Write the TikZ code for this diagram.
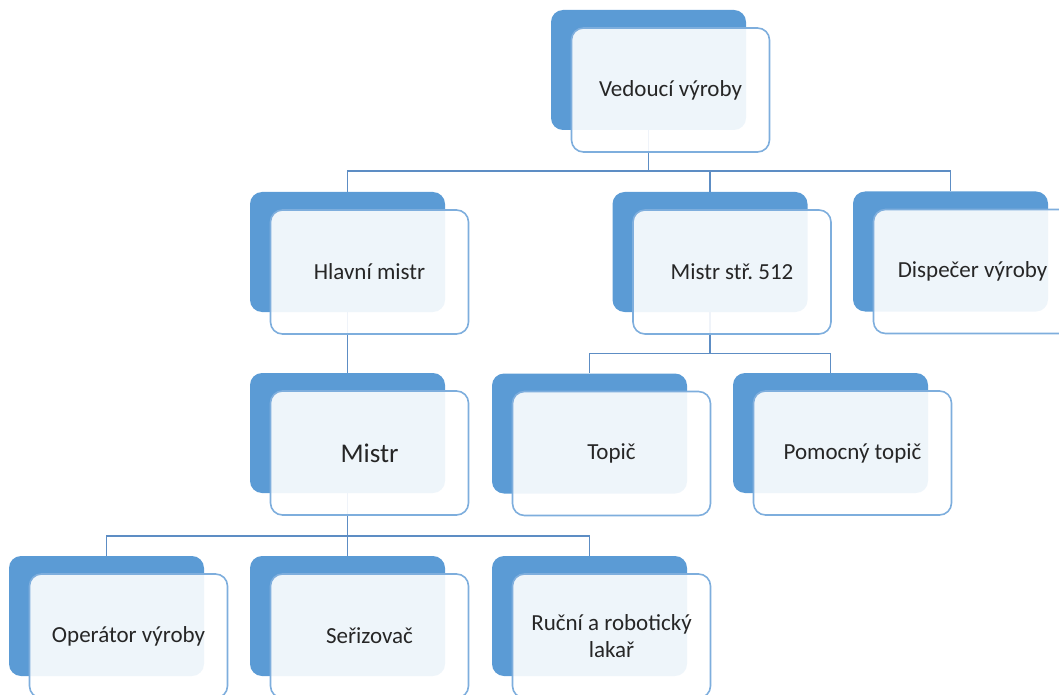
\documentclass[tikz,border=0pt]{standalone}
\usepackage{fontspec}
\setmainfont{Carlito}
\usetikzlibrary{backgrounds}
\definecolor{backblue}{HTML}{5B9BD5}
\definecolor{frontline}{HTML}{7EAEDD}
\definecolor{linkblue}{HTML}{5D8DC4}
\definecolor{labelgray}{HTML}{262626}
\tikzset{
  backbox/.style={rectangle, rounded corners=6pt, fill=backblue, minimum width=97.5pt, minimum height=60pt, inner sep=0pt},
  frontbox/.style={rectangle, rounded corners=6pt, draw=frontline, line width=0.8pt, fill=white, fill opacity=0.9, text opacity=1, minimum width=99pt, minimum height=62pt, inner sep=2pt, text=labelgray, align=center, font=\fontsize{11.5}{13.5}\selectfont},
  link/.style={draw=linkblue, line width=0.9pt}
}
% one unit of the chart: blue card behind, white card in front
\newcommand\orgunit[5][]{
  \begin{scope}[shift={(#3,#4)}]
      \node[backbox] (#2b) at (0,0) {};
      \node[frontbox, #1] (#2) at (22,20) {#5};
  \end{scope}
}
\frenchspacing

\begin{document}
\begin{tikzpicture}[x=0.5pt, y=-0.5pt]
    \useasboundingbox (0,0) rectangle (1059,695);

    \orgunit{ved}{648.5}{70}{Vedoucí výroby}
    \orgunit{hlav}{347.5}{252}{Hlavní mistr}
    \orgunit{stred}{710}{252}{Mistr stř. 512}
    \orgunit{disp}{950.5}{251.5}{Dispečer výroby}
    \orgunit[font=\fontsize{13.5}{16}\selectfont]{mistr}{347.5}{433}{Mistr}
    \orgunit{topic}{589.5}{433.5}{Topič}
    \orgunit{pomoc}{830.5}{433}{Pomocný topič}
    \orgunit{oper}{106.5}{616}{Operátor výroby}
    \orgunit{seriz}{347.5}{616}{Seřizovač}
    \orgunit{rucni}{589.5}{616}{Ruční a robotický\\lakař}

    \coordinate (busA) at (0,171);
    \coordinate (busB) at (0,353.5);
    \coordinate (busC) at (0,536);

    \begin{scope}[on background layer]
      \draw[link] (vedb.south) |- (busA -| hlavb.north) -- (hlavb.north);
      \draw[link] (vedb.south) |- (busA -| stredb.north) -- (stredb.north);
      \draw[link] (vedb.south) |- (busA -| dispb.north) -- (dispb.north);

      \draw[link] (hlavb.south) -- (mistrb.north);

      \draw[link] (stredb.south) |- (busB -| topicb.north) -- (topicb.north);
      \draw[link] (stredb.south) |- (busB -| pomocb.north) -- (pomocb.north);

      \draw[link] (mistrb.south) |- (busC -| operb.north) -- (operb.north);
      \draw[link] (mistrb.south) -- (serizb.north);
      \draw[link] (mistrb.south) |- (busC -| rucnib.north) -- (rucnib.north);
    \end{scope}
\end{tikzpicture}
\end{document}
